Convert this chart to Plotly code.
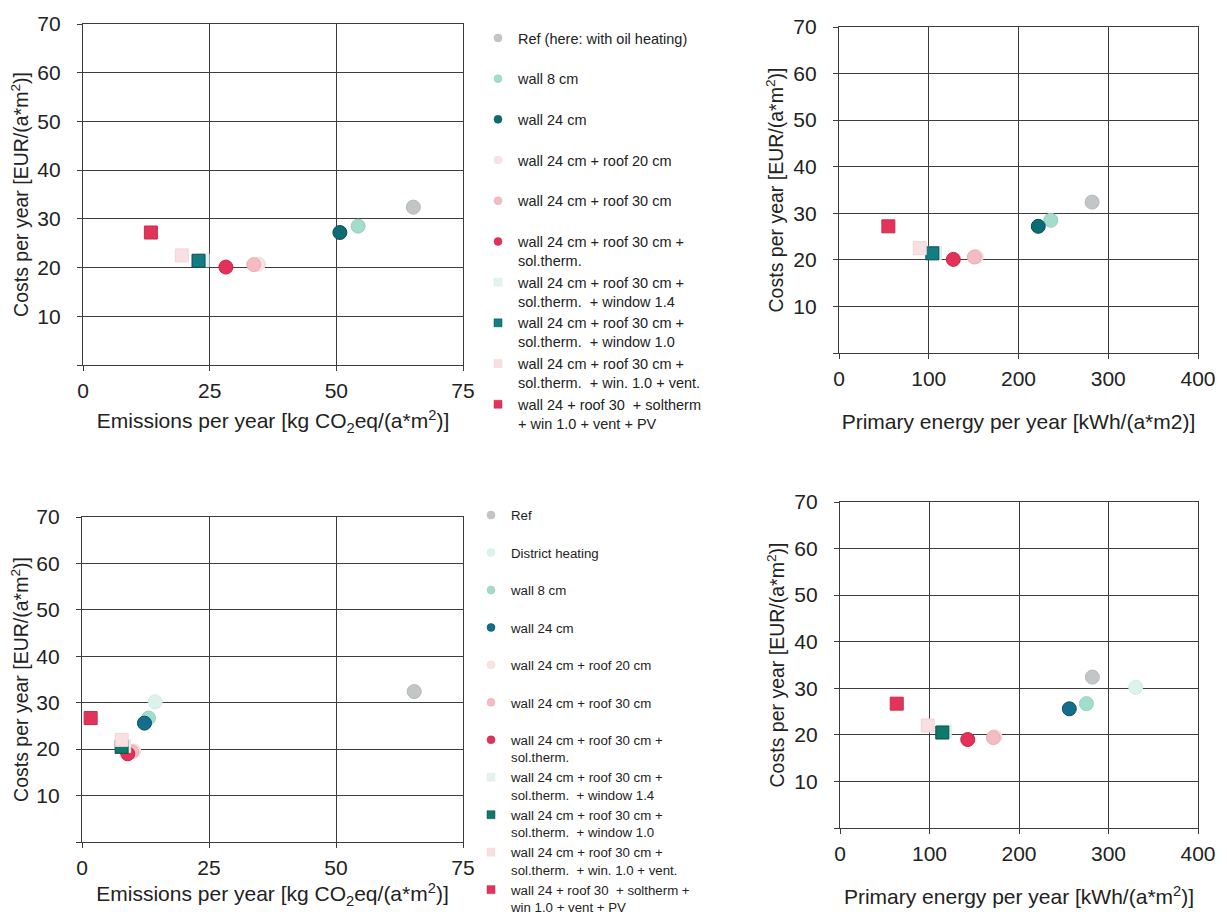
import plotly.graph_objects as go

# ---------------- data ----------------
top_names = [
    "Ref (here: with oil heating)",
    "wall 8 cm",
    "wall 24 cm",
    "wall 24 cm + roof 20 cm",
    "wall 24 cm + roof 30 cm",
    "wall 24 cm + roof 30 cm +<br>sol.therm.",
    "wall 24 cm + roof 30 cm +<br>sol.therm.  + window 1.4",
    "wall 24 cm + roof 30 cm +<br>sol.therm.  + window 1.0",
    "wall 24 cm + roof 30 cm +<br>sol.therm.  + win. 1.0 + vent.",
    "wall 24 + roof 30  + soltherm<br>+ win 1.0 + vent + PV",
]
top_keys = ["ref", "w8", "w24", "r20", "r30", "sol", "win14", "win10", "vent", "pv"]
top_emissions = [65.2, 54.3, 50.7, 34.6, 33.7, 28.2, 23.6, 22.8, 19.5, 13.4]
top_primary = [282, 236, 222, 153, 150.8, 127.4, 107, 104, 90, 55]
top_costs = [32.4, 28.5, 27.2, 20.7, 20.6, 20.1, 21.5, 21.4, 22.5, 27.2]

bot_names = [
    "Ref",
    "District heating",
    "wall 8 cm",
    "wall 24 cm",
    "wall 24 cm + roof 20 cm",
    "wall 24 cm + roof 30 cm",
    "wall 24 cm + roof 30 cm +<br>sol.therm.",
    "wall 24 cm + roof 30 cm +<br>sol.therm.  + window 1.4",
    "wall 24 cm + roof 30 cm +<br>sol.therm.  + window 1.0",
    "wall 24 cm + roof 30 cm +<br>sol.therm.  + win. 1.0 + vent.",
    "wall 24 + roof 30  + soltherm +<br>win 1.0 + vent + PV",
]
bot_keys = ["ref", "dh", "w8", "w24b", "r20", "r30", "sol", "win14", "win10b", "vent", "pv"]
bot_emissions = [65.4, 14.4, 13.1, 12.3, 10.2, 9.8, 9.0, 8.3, 7.8, 7.8, 1.7]
bot_primary = [282, 330.4, 275.4, 256.2, 173, 171.3, 142.7, 117, 114.3, 98, 63.4]
bot_costs = [32.4, 30.2, 26.7, 25.6, 19.6, 19.4, 19.0, 20.7, 20.5, 22.0, 26.7]

emis_ticks = [0, 25, 50, 75]
pe_ticks = [0, 100, 200, 300, 400]
cost_ticks = [0, 10, 20, 30, 40, 50, 60, 70]
cost_labels = ["", "10", "20", "30", "40", "50", "60", "70"]

# ---------------- styles ----------------
STYLE = {
    "ref":    dict(color="#c3c6c6", line="#b4b8b8", symbol="circle"),
    "dh":     dict(color="#dcf2ec", line="#d0ebe4", symbol="circle"),
    "w8":     dict(color="#a3dccb", line="#93d0bf", symbol="circle"),
    "w24":    dict(color="#0b6c72", line="#0a4f56", symbol="circle"),
    "w24b":   dict(color="#136e8c", line="#0d4f66", symbol="circle"),
    "r20":    dict(color="#f8e2e2", line="#f4d8d8", symbol="circle"),
    "r30":    dict(color="#f2bcc0", line="#eaaeb2", symbol="circle"),
    "sol":    dict(color="#e2325a", line="#c92648", symbol="circle"),
    "win14":  dict(color="#e4f3ef", line="#d9eee8", symbol="square"),
    "win10":  dict(color="#137d82", line="#0b4d55", symbol="square"),
    "win10b": dict(color="#0f7a6c", line="#0a5048", symbol="square"),
    "vent":   dict(color="#f8e0e2", line="#f2d4d6", symbol="square"),
    "pv":     dict(color="#e2345a", line="#cc2a4c", symbol="square"),
}

FONT = "Liberation Sans, Arial, sans-serif"
TXT = "#222222"
GRID = "#3c3c3c"

fig = go.Figure()


def add_points(keys, xs, ys, xa, ya):
    for k, x, y in zip(keys, xs, ys):
        s = STYLE[k]
        fig.add_trace(go.Scatter(
            x=[x], y=[y], mode="markers", xaxis=xa, yaxis=ya, showlegend=False,
            marker=dict(size=14 if s["symbol"] == "circle" else 13, color=s["color"],
                        symbol=s["symbol"], line=dict(color=s["line"], width=1)),
            hoverinfo="skip"))


def add_legend(keys, names, legend):
    for k, n in zip(keys, names):
        s = STYLE[k]
        label = n if "<br>" in n else n + "<br>\u00a0"
        fig.add_trace(go.Scatter(
            x=[None], y=[None], mode="markers", name=label, legend=legend,
            marker=dict(size=8, color=s["color"], symbol=s["symbol"],
                        line=dict(color=s["line"], width=0.5))))


# panels: top-left (x, y), top-right (x2, y2), bottom-left (x3, y3), bottom-right (x4, y4)
add_points(top_keys, top_emissions, top_costs, "x", "y")
add_points(top_keys, top_primary, top_costs, "x2", "y2")
add_points(bot_keys, bot_emissions, bot_costs, "x3", "y3")
add_points(bot_keys, bot_primary, bot_costs, "x4", "y4")
add_legend(top_keys, top_names, "legend")
add_legend(bot_keys, bot_names, "legend2")

# page has an 8px body margin: figure occupies page pixels 8..1227 / 8..916
OFF = 8
W, H = 1227 - OFF, 916 - OFF


def px_x(a, b):
    return [(a - OFF) / W, (b - OFF) / W]


def px_y(top, bottom):
    return [1 - (bottom - OFF) / H, 1 - (top - OFF) / H]


def xaxis(dom, anchor, rng, ticks, title, standoff):
    return dict(domain=dom, anchor=anchor, range=rng, tickvals=ticks,
                showgrid=True, gridcolor=GRID, gridwidth=1.2,
                showline=True, linecolor=GRID, linewidth=1.2, mirror=True,
                ticks="outside", ticklen=5, tickcolor=GRID, ticklabelstandoff=2,
                zeroline=False, tickfont=dict(size=21, color=TXT, family=FONT),
                title=dict(text=title, font=dict(size=21, color=TXT, family=FONT),
                           standoff=standoff), fixedrange=True)


def yaxis(dom, anchor, standoff):
    return dict(domain=dom, anchor=anchor, range=[0, 70], tickvals=cost_ticks,
                ticktext=cost_labels,
                showgrid=True, gridcolor=GRID, gridwidth=1.2,
                showline=True, linecolor=GRID, linewidth=1.2, mirror=True,
                ticks="outside", ticklen=5, tickcolor=GRID, ticklabelstandoff=12,
                zeroline=False, tickfont=dict(size=21, color=TXT, family=FONT),
                title=dict(text="Costs per year [EUR/(a*m<sup>2</sup>)]",
                           font=dict(size=19.5, color=TXT, family=FONT), standoff=standoff),
                fixedrange=True)


emis_title = "Emissions per year [kg CO<sub>2</sub>eq/(a*m<sup>2</sup>)]"

fig.update_layout(
    width=W, height=H,
    margin=dict(l=0, r=0, t=0, b=0, autoexpand=False),
    paper_bgcolor="white", plot_bgcolor="white",
    font=dict(family=FONT, color=TXT),
    xaxis=xaxis(px_x(83, 463), "y", [0, 75], emis_ticks, emis_title, 12),
    yaxis=yaxis(px_y(24, 365), "x", 4),
    xaxis2=xaxis(px_x(839, 1198), "y2", [0, 400], pe_ticks,
                 "Primary energy per year [kWh/(a*m2)]", 25),
    yaxis2=yaxis(px_y(27, 353), "x2", 4),
    xaxis3=xaxis(px_x(82, 463), "y3", [0, 75], emis_ticks, emis_title, 8),
    yaxis3=yaxis(px_y(517, 842), "x3", 4),
    xaxis4=xaxis(px_x(840, 1198), "y4", [0, 400], pe_ticks,
                 "Primary energy per year [kWh/(a*m<sup>2</sup>)]", 25),
    yaxis4=yaxis(px_y(502, 828), "x4", 4),
    legend=dict(x=(478 - OFF) / W, y=1 - (22 - OFF) / H, xanchor="left", yanchor="top",
                valign="top", font=dict(size=14.5, color=TXT, family=FONT),
                bgcolor="rgba(0,0,0,0)", itemclick=False, itemdoubleclick=False),
    legend2=dict(x=(471 - OFF) / W, y=1 - (500 - OFF) / H, xanchor="left", yanchor="top",
                 valign="top", font=dict(size=13.25, color=TXT, family=FONT),
                 bgcolor="rgba(0,0,0,0)", itemclick=False, itemdoubleclick=False),
)

fig.write_html("out.html")
